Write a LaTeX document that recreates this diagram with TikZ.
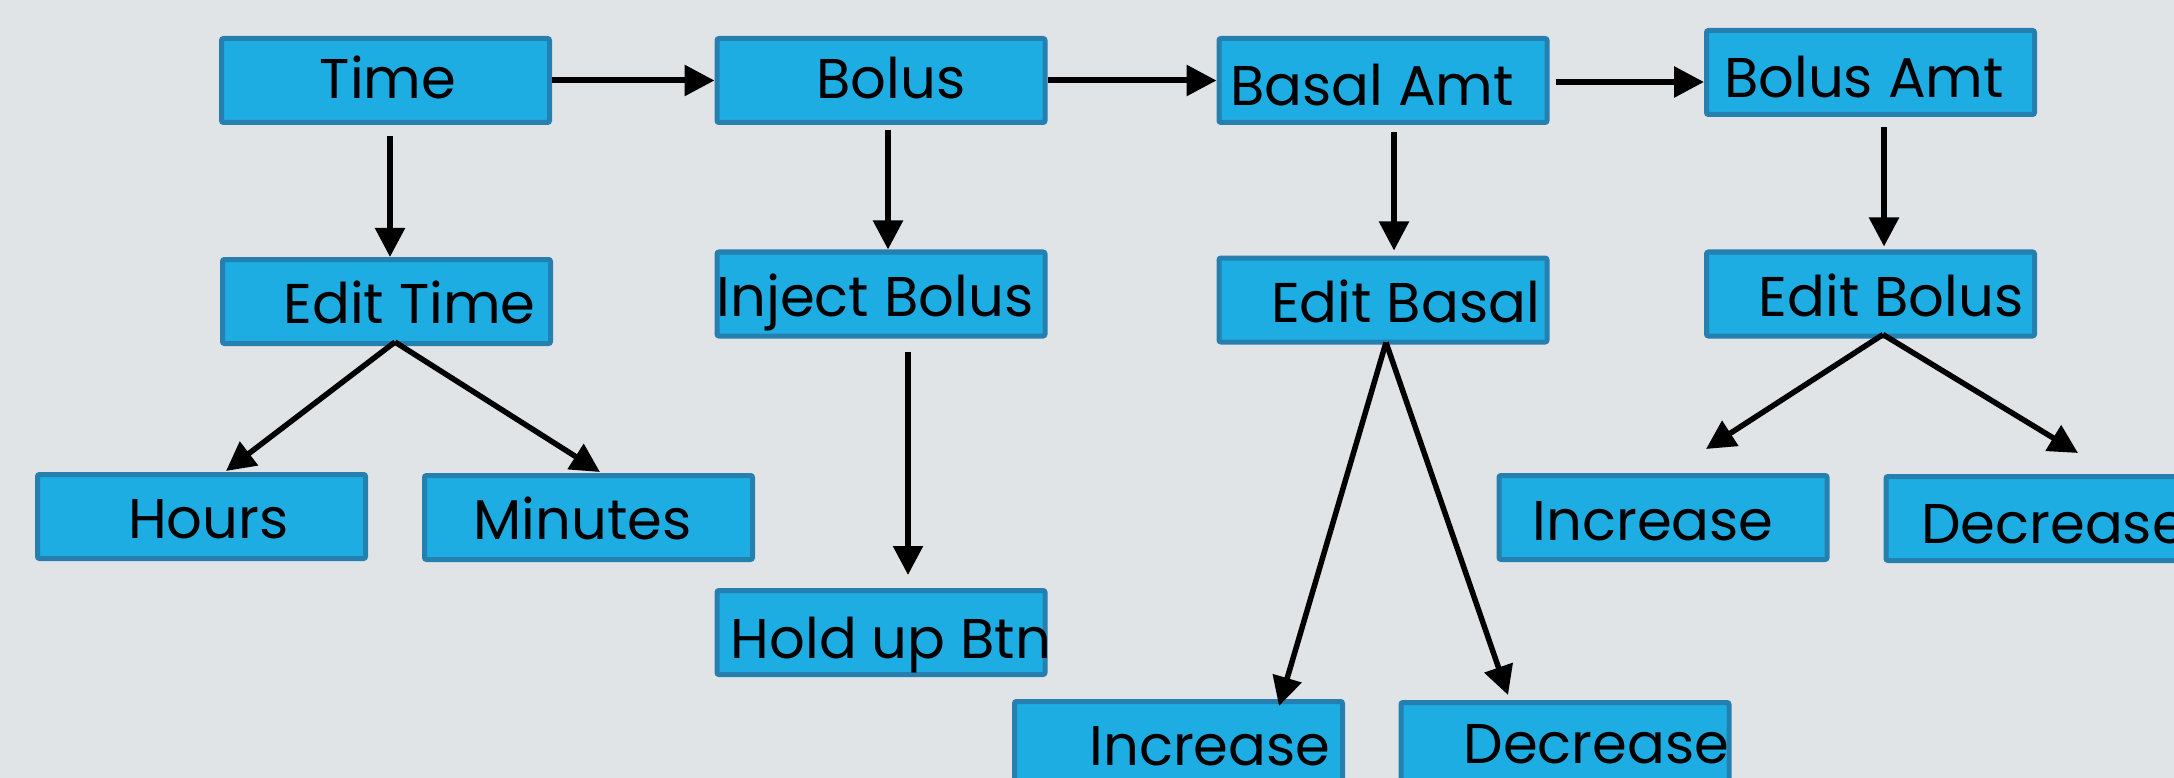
\documentclass[tikz,border=0pt]{standalone}
\usepackage{fontspec}
\setmainfont{Poppins}
\usetikzlibrary{arrows.meta}
\definecolor{bg}{HTML}{E0E4E7}
\definecolor{boxfill}{HTML}{1EADE3}
\definecolor{boxline}{HTML}{2580B0}
\begin{document}
\begin{tikzpicture}[x=1pt,y=-1pt,
  box/.style={draw=boxline, fill=boxfill, line width=5pt, rounded corners=2pt, minimum width=328pt, minimum height=84pt, inner sep=0pt},
  txt/.style={anchor=base, inner sep=0pt, font=\fontsize{56}{60}\selectfont, text=black},
  harrow/.style={draw=black, line width=6pt, -{Triangle[length=30pt,width=30pt]}},
  varrow/.style={draw=black, line width=5.5pt, -{Triangle[length=29pt,width=29pt]}},
  darrow/.style={draw=black, line width=5.5pt, -{Triangle[length=29pt,width=29pt]}}]
\useasboundingbox (0,0) rectangle (2174,778);
\clip (0,0) rectangle (2174,778);
\fill[bg] (0,0) rectangle (2174,778);
% boxes
\node[box] (time) at (385.5,80.5) {};
\node[box] (bolus) at (881,80.5) {};
\node[box] (basal) at (1383,80.5) {};
\node[box] (bamt) at (1870.5,72.5) {};
\node[box] (edittime) at (386.5,301.5) {};
\node[box] (inject) at (881,294) {};
\node[box] (editbasal) at (1383,300) {};
\node[box] (editbolus) at (1870.5,294) {};
\node[box] (hours) at (201.5,516.5) {};
\node[box] (minutes) at (588.5,517.5) {};
\node[box] (hold) at (881,632.5) {};
\node[box] (rinc) at (1663,517.5) {};
\node[box] (rdec) at (2050,518.5) {};
\node[box] (binc) at (1178.5,743.5) {};
\node[box] (bdec) at (1565,744.5) {};
% texts
\node[txt] (timeT) at (388,99) {Time};
\node[txt] (bolusT) at (891,99) {Bolus};
\node[txt] (basalT) at (1372,106) {Basal Amt};
\node[txt] (bamtT) at (1864,98) {Bolus Amt};
\node[txt] (edittimeT) at (409.5,323) {Edit Time};
\node[txt] (injectT) at (875,316) {Inject Bolus};
\node[txt] (editbasalT) at (1405.5,322) {Edit Basal};
\node[txt] (editbolusT) at (1891,316) {Edit Bolus};
\node[txt] (hoursT) at (208.5,538) {Hours};
\node[txt] (minutesT) at (582.5,539) {Minutes};
\node[txt] (holdT) at (891,658) {Hold up Btn};
\node[txt] (rincT) at (1653,540) {Increase};
\node[txt, anchor=base west] (rdecT) at (1921,543) {Decrease};
\node[txt] (bincT) at (1210,765) {Increase};
\node[txt] (bdecT) at (1596.5,763) {Decrease};
% horizontal arrows
\draw[harrow] (time.east) -- (bolus.west);
\draw[harrow] (bolus.east) -- (basal.west);
\draw[harrow] ([xshift=6pt,yshift=-1.5pt]basal.east) -- ([yshift=-1.5pt]basal.east -| bamt.west);
% vertical arrows
\draw[varrow] ([xshift=4.5pt,yshift=-11pt]time.south) -- ([xshift=3.5pt]edittime.north);
\draw[varrow] ([xshift=7pt,yshift=-5pt]bolus.south) -- ([xshift=7pt]inject.north);
\draw[varrow] ([xshift=11pt,yshift=-7pt]basal.south) -- ([xshift=11pt,yshift=5pt]editbasal.north);
\draw[varrow] ([xshift=13.5pt,yshift=-10pt]bamt.south) -- ([xshift=13.5pt,yshift=3pt]editbolus.north);
\draw[varrow] ([xshift=27pt,yshift=-13pt]inject.south) -- ([xshift=27pt,yshift=13pt]hold.north);
% diagonal arrows
\draw[darrow] ([xshift=8.5pt,yshift=4pt]edittime.south) -- ([xshift=24.5pt,yshift=1pt]hours.north);
\draw[darrow] ([xshift=8.5pt,yshift=4pt]edittime.south) -- ([xshift=11.5pt,yshift=1pt]minutes.north);
\draw[darrow] ([xshift=3pt,yshift=2pt]editbasal.south) -- ([xshift=100.5pt,yshift=-7pt]binc.north);
\draw[darrow] ([xshift=3pt,yshift=2pt]editbasal.south) -- ([xshift=-57pt,yshift=5pt]bdec.north);
\draw[darrow] ([xshift=12.5pt,yshift=4pt]editbolus.south) -- ([xshift=43pt,yshift=24pt]rinc.north);
\draw[darrow] ([xshift=12.5pt,yshift=4pt]editbolus.south) -- ([xshift=28pt,yshift=21pt]rdec.north);
\end{tikzpicture}
\end{document}
